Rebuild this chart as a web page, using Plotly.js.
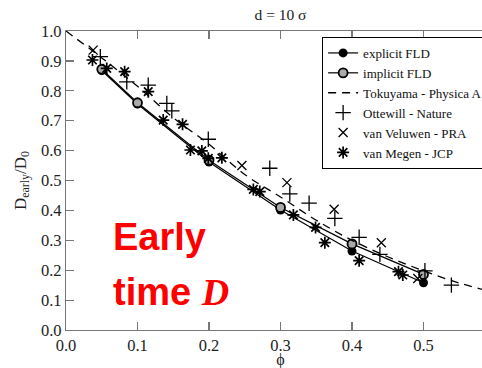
<!DOCTYPE html>
<html>
<head>
<meta charset="utf-8">
<script src="https://cdn.plot.ly/plotly-3.0.1.min.js"></script>
<style>html,body{margin:0;padding:0;background:#fff;overflow:hidden;}</style>
</head>
<body>
<div id="chart" style="width:500px;height:369px;"></div>
<script>
// FLD results
const fldPhi = [0.05, 0.1, 0.2, 0.3, 0.4, 0.5];
const explicitFLD = [0.868, 0.756, 0.562, 0.401, 0.264, 0.158];
const implicitFLD = [0.872, 0.760, 0.568, 0.410, 0.288, 0.186];
// Tokuyama - Physica A
const tokuPhi = [0.0, 0.05, 0.1, 0.15, 0.2, 0.25, 0.3, 0.35, 0.4, 0.45, 0.5, 0.55, 0.6];
const tokuVal = [1.0, 0.91, 0.815, 0.71, 0.621, 0.52, 0.445, 0.367, 0.30, 0.245, 0.198, 0.157, 0.125];
// Ottewill - Nature
const ottPhi = [0.048, 0.085, 0.115, 0.141, 0.148, 0.199, 0.285, 0.313, 0.34, 0.376, 0.41, 0.439, 0.502, 0.539];
const ottVal = [0.914, 0.83, 0.819, 0.758, 0.733, 0.638, 0.541, 0.455, 0.424, 0.373, 0.31, 0.253, 0.198, 0.15];
// van Veluwen - PRA
const velPhi = [0.038, 0.246, 0.309, 0.375, 0.441, 0.492];
const velVal = [0.936, 0.55, 0.493, 0.404, 0.292, 0.172];
// van Megen - JCP
const megPhi = [0.037, 0.057, 0.082, 0.115, 0.136, 0.163, 0.174, 0.19, 0.199, 0.218, 0.262, 0.271, 0.318, 0.349, 0.362, 0.41, 0.465, 0.471];
const megVal = [0.903, 0.875, 0.864, 0.797, 0.702, 0.688, 0.602, 0.599, 0.574, 0.576, 0.47, 0.463, 0.385, 0.343, 0.292, 0.232, 0.195, 0.184];

const serif = 'Liberation Serif, Times New Roman, serif';

const traces = [
  {x: fldPhi, y: explicitFLD, name: 'explicit FLD', type: 'scatter', mode: 'lines+markers',
   line: {color: '#000', width: 1.2}, marker: {color: '#000', size: 9, symbol: 'circle'}},
  {x: fldPhi, y: implicitFLD, name: 'implicit FLD', type: 'scatter', mode: 'lines+markers',
   line: {color: '#000', width: 1.2}, marker: {color: '#aaaaaa', size: 9, symbol: 'circle', line: {color: '#000', width: 1.8}}},
  {x: tokuPhi, y: tokuVal, name: 'Tokuyama - Physica A', type: 'scatter', mode: 'lines',
   line: {color: '#000', width: 1.3, dash: '8px,6px', shape: 'spline'}},
  {x: ottPhi, y: ottVal, name: 'Ottewill - Nature', type: 'scatter', mode: 'markers',
   marker: {symbol: 'cross-thin-open', size: 11, color: '#000', line: {color: '#000', width: 1.3}}},
  {x: velPhi, y: velVal, name: 'van Veluwen - PRA', type: 'scatter', mode: 'markers',
   marker: {symbol: 'x-thin-open', size: 9, color: '#000', line: {color: '#000', width: 1.3}}},
  {x: megPhi, y: megVal, name: 'van Megen - JCP', type: 'scatter', mode: 'markers',
   marker: {symbol: 'asterisk-open', size: 10, color: '#000', line: {color: '#000', width: 1.7}}}
];

const axisCommon = {
  showline: true, linecolor: '#777', linewidth: 1.2, mirror: 'ticks',
  ticks: 'inside', ticklen: 8, tickwidth: 1.2, tickcolor: '#777',
  showgrid: false, zeroline: false, dtick: 0.1, tickformat: '.1f',
  tickfont: {family: serif, size: 16.5, color: '#222'}
};

const layout = {
  width: 500, height: 369,
  margin: {l: 66, r: 5, t: 31, b: 39},
  paper_bgcolor: '#fff', plot_bgcolor: '#fff',
  title: {text: 'd = 10 σ', font: {family: serif, size: 15.5, color: '#222'}, x: 0.5, xref: 'paper', y: 0.96, yanchor: 'middle'},
  xaxis: Object.assign({}, axisCommon, {range: [0, 0.6], tick0: 0,
    title: {text: 'ϕ', font: {family: serif, size: 16, color: '#222'}}}),
  yaxis: Object.assign({}, axisCommon, {range: [0, 1.0], tick0: 0,
    title: {text: 'D<sub>early</sub>/D<sub>0</sub>', font: {family: serif, size: 17, color: '#222'}, standoff: 10}}),
  showlegend: true,
  legend: {x: 0.597, y: 0.98, xanchor: 'left', yanchor: 'top', bgcolor: '#fff',
    bordercolor: '#000', borderwidth: 1, font: {family: serif, size: 13, color: '#111'},
    tracegroupgap: 0, itemwidth: 30},
  annotations: [
    {text: '<b>Early</b>', xref: 'paper', yref: 'paper', x: 0.105, y: 0.31, xanchor: 'left', yanchor: 'middle',
     showarrow: false, font: {family: 'Liberation Sans, Arial, sans-serif', size: 38, color: '#ff0000'}},
    {text: '<b>time <span style="font-family:Liberation Serif"><i>D</i></span></b>', xref: 'paper', yref: 'paper', x: 0.105, y: 0.128, xanchor: 'left', yanchor: 'middle',
     showarrow: false, font: {family: 'Liberation Sans, Arial, sans-serif', size: 38, color: '#ff0000'}}
  ]
};
layout.title.y = 1 - 15 / 369;

Plotly.newPlot('chart', traces, layout, {displayModeBar: false, staticPlot: true});
</script>
</body>
</html>
